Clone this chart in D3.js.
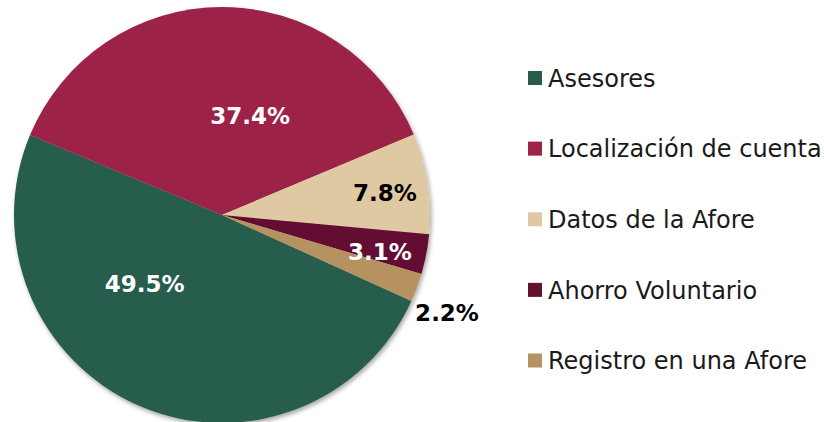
<!DOCTYPE html>
<html lang="es">
<head>
  <meta charset="UTF-8" />
  <title>Distribución de solicitudes</title>
  <script src="https://d3js.org/d3.v7.min.js"></script>
  <style>
    body {
      margin: 0;
      background: #fff;
      font-family: "DejaVu Sans", sans-serif;
    }
    svg { display: block; }
    .slice-label {
      font-size: 23px;
      font-weight: bold;
    }
    .legend-label {
      font-size: 24px;
      fill: #1a1a1a;
    }
  </style>
</head>
<body>
  <div id="chart"></div>

  <script>
    // datos
    const categories = ["Asesores", "Localización de cuenta", "Datos de la Afore", "Ahorro Voluntario", "Registro en una Afore"];
    const values     = [49.5, 37.4, 7.8, 3.1, 2.2];
    const colors     = ["#285d4e", "#9c2447", "#dec9a2", "#641131", "#b5925f"];
    const labelColor = ["#fff", "#fff", "#000", "#fff", "#000"];

    const width  = 824;
    const height = 422;

    const cx = 222, cy = 215, radius = 208;

    const svg = d3.select("#chart")
                  .append("svg")
                    .attr("width", width)
                    .attr("height", height);

    const defs = svg.append("defs");
    const shadow = defs.append("filter")
                       .attr("id", "shadow")
                       .attr("x", "-10%").attr("y", "-10%")
                       .attr("width", "125%").attr("height", "125%");
    shadow.append("feDropShadow")
          .attr("dx", 1.5)
          .attr("dy", 2.5)
          .attr("stdDeviation", 2)
          .attr("flood-color", "#000")
          .attr("flood-opacity", 0.35);

    const data = categories.map((c, i) => ({ name: c, value: values[i], color: colors[i], lc: labelColor[i] }));

    // el primer sector empieza a ~114° (sentido horario desde las 12)
    const start = 114.4 * Math.PI / 180;
    const pie = d3.pie()
                  .value(d => d.value)
                  .sort(null)
                  .startAngle(start)
                  .endAngle(start + 2 * Math.PI);

    const arcs = pie(data);

    const arc = d3.arc().innerRadius(0).outerRadius(radius);

    const g = svg.append("g")
                 .attr("transform", `translate(${cx}, ${cy})`);

    g.append("g")
      .attr("filter", "url(#shadow)")
      .selectAll("path")
      .data(arcs)
      .enter()
      .append("path")
        .attr("d", arc)
        .attr("fill", d => d.data.color);

    // etiquetas: radio relativo y desplazamiento angular (grados) respecto al centro del sector
    const labelR   = [0.50, 0.495, 0.79, 0.78, 1.18];
    const labelOff = [24.6, 15.9, 1.1, 2.4, 3.1];
    g.selectAll(".slice-label")
      .data(arcs)
      .enter()
      .append("text")
        .attr("class", "slice-label")
        .attr("text-anchor", "middle")
        .attr("dominant-baseline", "central")
        .attr("transform", (d, i) => {
          const a = (d.startAngle + d.endAngle) / 2 + labelOff[i] * Math.PI / 180;
          const r = radius * labelR[i];
          return `translate(${Math.sin(a) * r}, ${-Math.cos(a) * r})`;
        })
        .attr("fill", d => d.data.lc)
        .text(d => d.data.value.toFixed(1) + "%");

    // leyenda
    const legendY = d3.scalePoint()
                      .domain(categories)
                      .range([78, 360.5]);

    const legend = svg.append("g")
                      .attr("transform", "translate(528, 0)");

    const item = legend.selectAll("g")
                       .data(data)
                       .enter()
                       .append("g")
                         .attr("transform", d => `translate(0, ${legendY(d.name)})`);

    item.append("rect")
        .attr("x", 0)
        .attr("y", -7)
        .attr("width", 14)
        .attr("height", 14)
        .attr("fill", d => d.color);

    item.append("text")
        .attr("class", "legend-label")
        .attr("x", 20)
        .attr("dy", "0.36em")
        .text(d => d.name);
  </script>
</body>
</html>
